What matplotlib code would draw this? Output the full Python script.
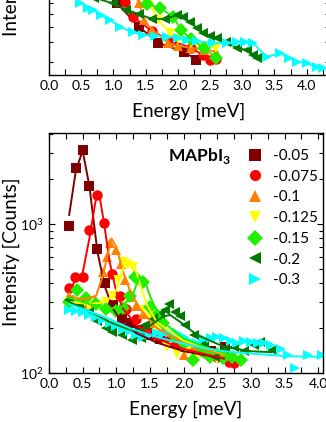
# -*- coding: utf-8 -*-
import matplotlib
matplotlib.use('Agg')
import matplotlib.pyplot as plt
from matplotlib.lines import Line2D
from matplotlib.ticker import MultipleLocator, FormatStrFormatter, LogLocator, NullFormatter

plt.rcParams['font.family'] = ['Lato', 'DejaVu Sans']
plt.rcParams['mathtext.fontset'] = 'custom'
plt.rcParams['mathtext.rm'] = 'Lato'
plt.rcParams['mathtext.bf'] = 'Lato:bold'

labels = ['-0.05', '-0.075', '-0.1', '-0.125', '-0.15', '-0.2', '-0.3']
colors = ['#800000', '#ff0000', '#ff8000', '#ffff00', '#22ee00', '#007a00', '#00ffff']
markers = ['s', 'o', '^', 'v', 'D', '<', '>']

# ---- lower panel: measured points ----
e_005 = [0.30, 0.40, 0.51, 0.60, 0.72, 0.83, 0.95, 1.08, 1.20, 1.35, 1.50, 1.65, 1.80, 1.95, 2.10, 2.25, 2.40, 2.62]
i_005 = [970, 2380, 3140, 1800, 680, 402, 286, 235, 215, 195, 180, 170, 160, 150, 148, 145, 140, 150]

e_0075 = [0.30, 0.39, 0.51, 0.60, 0.72, 0.81, 0.93, 1.05, 1.15, 1.30, 1.45, 1.60, 1.75, 1.90, 2.05, 2.20, 2.35, 2.50, 2.67, 2.75]
i_0075 = [372, 441, 441, 912, 1566, 1016, 462, 330, 270, 230, 200, 180, 165, 160, 150, 140, 135, 128, 119, 117]

e_01 = [0.30, 0.45, 0.58, 0.68, 0.80, 0.86, 0.91, 1.00, 1.07, 1.13, 1.20, 1.30, 1.40, 1.55, 1.70, 1.85, 2.00, 2.15, 2.30, 2.45, 2.60]
i_01 = [330, 300, 295, 309, 478, 600, 742, 669, 540, 421, 325, 280, 250, 215, 190, 175, 132, 150, 140, 135, 138]

e_0125 = [0.30, 0.45, 0.60, 0.75, 0.85, 0.95, 1.03, 1.10, 1.17, 1.25, 1.30, 1.40, 1.50, 1.60, 1.75, 1.90, 2.05, 2.20, 2.35, 2.50, 2.65]
i_0125 = [300, 285, 280, 285, 300, 330, 420, 557, 530, 517, 409, 265, 240, 200, 150, 135, 140, 130, 128, 125, 130]

e_015 = [0.30, 0.41, 0.55, 0.70, 0.85, 1.00, 1.10, 1.20, 1.28, 1.40, 1.50, 1.60, 1.70, 1.85, 2.00, 2.14, 2.27, 2.39, 2.50, 2.59, 2.72, 2.85]
i_015 = [300, 360, 320, 290, 270, 262, 275, 330, 442, 410, 279, 245, 215, 180, 158, 122, 140, 129, 135, 126, 128, 122]

e_02 = [0.29, 0.45, 0.60, 0.72, 0.84, 0.94, 1.09, 1.24, 1.37, 1.42, 1.55, 1.65, 1.72, 1.79, 1.87, 1.95, 2.02, 2.15, 2.30, 2.47, 2.60, 2.75, 2.90, 3.05, 3.14, 3.32]
i_02 = [309, 285, 255, 225, 200, 189, 180, 166, 172, 210, 230, 250, 265, 290, 258, 240, 210, 180, 160, 129, 145, 150, 140, 155, 162, 143]

e_03 = [0.30, 0.40, 0.50, 0.60, 0.70, 0.80, 0.90, 1.00, 1.10, 1.20, 1.30, 1.40, 1.50, 1.60, 1.70, 1.80, 1.90, 2.00, 2.10, 2.20, 2.30, 2.40, 2.50, 2.60, 2.70, 2.80, 2.90, 3.00, 3.10, 3.20, 3.30, 3.45, 3.55, 3.65, 3.85, 4.05]
i_03 = [265, 262, 255, 245, 236, 228, 218, 208, 198, 190, 180, 175, 180, 185, 182, 188, 185, 175, 165, 160, 168, 172, 175, 172, 165, 160, 165, 162, 160, 158, 155, 145, 132, 108, 132, 132]

# ---- lower panel: fitted curves ----
fe_005 = [0.30, 0.40, 0.50, 0.60, 0.72, 0.83, 0.95, 1.10, 1.30, 1.60, 2.00, 2.60]
fi_005 = [1150, 2300, 3100, 1800, 650, 380, 270, 215, 185, 160, 140, 125]
fe_0075 = [0.30, 0.40, 0.50, 0.60, 0.70, 0.75, 0.82, 0.90, 1.00, 1.10, 1.30, 1.60, 2.00, 2.60]
fi_0075 = [360, 420, 470, 800, 1500, 1550, 1000, 560, 350, 270, 210, 170, 145, 125]
fe_01 = [0.30, 0.50, 0.70, 0.80, 0.88, 0.93, 1.00, 1.10, 1.20, 1.35, 1.60, 2.00, 2.60]
fi_01 = [330, 310, 330, 450, 650, 800, 700, 480, 360, 270, 200, 160, 132]
fe_0125 = [0.30, 0.60, 0.85, 1.00, 1.10, 1.18, 1.27, 1.35, 1.45, 1.60, 2.00, 2.60]
fi_0125 = [300, 290, 300, 360, 500, 580, 520, 400, 290, 220, 165, 135]
fe_015 = [0.30, 0.60, 0.90, 1.10, 1.25, 1.34, 1.42, 1.50, 1.60, 1.75, 2.00, 2.40, 2.80]
fi_015 = [320, 290, 270, 280, 340, 440, 420, 330, 260, 210, 170, 145, 128]
fe_02 = [0.30, 0.60, 0.90, 1.20, 1.40, 1.55, 1.70, 1.80, 1.95, 2.20, 2.60, 3.00, 3.30]
fi_02 = [300, 260, 220, 195, 195, 215, 240, 245, 220, 180, 150, 140, 138]
fe_03 = [0.30, 0.60, 0.90, 1.20, 1.50, 1.80, 2.20, 2.60, 3.00, 3.50, 4.05]
fi_03 = [290, 260, 230, 200, 180, 165, 150, 140, 135, 130, 128]

# ---- upper panel (only its lower part is in the picture) ----
te_005 = [0.70, 1.05, 1.40, 1.70, 2.09, 2.29]
ti_005 = [1200, 705, 500, 396, 350, 311]
te_0075 = [0.90, 1.18, 1.31, 1.60, 1.90, 2.20, 2.39, 2.50, 2.60]
ti_0075 = [1100, 716, 575, 470, 410, 370, 334, 311, 315]
te_01 = [1.20, 1.40, 1.47, 1.60, 1.85, 2.00, 2.20, 2.40, 2.60]
ti_01 = [1000, 700, 550, 480, 396, 380, 370, 360, 350]
te_0125 = [1.35, 1.55, 1.70, 1.88, 2.00, 2.20, 2.40, 2.60]
ti_0125 = [1000, 700, 550, 458, 420, 395, 380, 370]
te_015 = [1.30, 1.52, 1.72, 1.93, 2.05, 2.20, 2.40, 2.60]
ti_015 = [950, 690, 660, 575, 480, 420, 370, 320]
te_02 = [0.50, 0.70, 1.00, 1.20, 1.40, 1.60, 1.80, 1.99, 2.08, 2.19, 2.30, 2.39, 2.50, 2.61, 2.75, 2.92, 3.07, 3.17, 3.23]
ti_02 = [900, 760, 700, 640, 600, 560, 560, 590, 575, 536, 490, 458, 440, 426, 400, 370, 358, 334, 319]
te_03 = [0.48, 0.60, 0.68, 0.80, 0.95, 1.10, 1.30, 1.46, 1.65, 1.83, 2.00, 2.14, 2.30, 2.55, 2.76, 2.92, 3.05, 3.17, 3.38, 3.59, 3.72, 3.85, 4.00, 4.16, 4.25]
ti_03 = [705, 660, 639, 590, 550, 499, 463, 444, 440, 433, 425, 415, 405, 396, 396, 403, 400, 396, 324, 343, 320, 303, 295, 280, 276]

points = [(e_005, i_005), (e_0075, i_0075), (e_01, i_01), (e_0125, i_0125),
          (e_015, i_015), (e_02, i_02), (e_03, i_03)]
fits = [(fe_005, fi_005), (fe_0075, fi_0075), (fe_01, fi_01), (fe_0125, fi_0125),
        (fe_015, fi_015), (fe_02, fi_02), (fe_03, fi_03)]
top_points = [(te_005, ti_005), (te_0075, ti_0075), (te_01, ti_01), (te_0125, ti_0125),
              (te_015, ti_015), (te_02, ti_02), (te_03, ti_03)]

W, H = 326, 422


def style_axes(ax):
    ax.set_yscale('log')
    ax.xaxis.set_major_locator(MultipleLocator(0.5))
    ax.xaxis.set_minor_locator(MultipleLocator(0.25))
    ax.xaxis.set_major_formatter(FormatStrFormatter('%.1f'))
    ax.yaxis.set_minor_locator(LogLocator(base=10, subs=range(2, 10)))
    ax.yaxis.set_minor_formatter(NullFormatter())
    ax.tick_params(which='both', direction='in', top=True, right=True, labelsize=10,
                   width=0.8)
    ax.tick_params(which='major', length=4)
    ax.tick_params(axis='x', which='minor', length=4)
    ax.tick_params(axis='y', which='minor', length=3)
    ax.tick_params(axis='y', pad=4)
    for sp in ax.spines.values():
        sp.set_linewidth(1.0)
    ax.set_xlabel('Energy [meV]', fontsize=13.7, labelpad=8)
    ax.set_ylabel('Intensity [Counts]', fontsize=13.7)


fig = plt.figure(figsize=(W / 100, H / 100), dpi=100)

# upper panel, mostly outside the picture
ax_top = fig.add_axes([49 / W, (H - 75) / H, (329 - 49) / W, 274 / H])
style_axes(ax_top)
ax_top.tick_params(axis='y', labelleft=False)
for (e, i), c, m in zip(top_points, colors, markers):
    ax_top.plot(e, i, color=c, marker=m, markersize=7.5, linewidth=1.3, markeredgewidth=0)
ax_top.set_xlim(0, (329 - 49) / 64.4)
ax_top.set_ylim(250, 250 * 10 ** (274 / 160))
ax_top.yaxis.set_label_coords(20 / W, (H + 38) / H, transform=fig.transFigure)

# lower panel
ax = fig.add_axes([49 / W, (H - 373) / H, (323 - 49) / W, 240 / H])
style_axes(ax)
for (e, i), c, m in zip(points, colors, markers):
    ax.plot(e, i, linestyle='none', color=c, marker=m, markersize=7.5, markeredgewidth=0)
for (e, i), c in zip(fits, colors):
    ax.plot(e, i, color=c, linewidth=1.4)
ax.set_xlim(0, (323 - 49) / 67.3)
ax.set_ylim(100, 100 * 10 ** (240 / 149))
ax.yaxis.set_label_coords(20 / W, (H - 252) / H, transform=fig.transFigure)

ax.text(199 / W, (H - 156) / H, r'MAPbI$_\mathbf{3}$', transform=fig.transFigure,
        fontsize=12.5, fontweight='bold', ha='center', va='center')

handles = [Line2D([], [], linestyle='none', marker=m, color=c, markersize=8, markeredgewidth=0)
           for c, m in zip(colors, markers)]
ax.legend(handles, labels, loc='upper left', bbox_to_anchor=(248 / W, (H - 149) / H),
          bbox_transform=fig.transFigure, frameon=False, fontsize=11,
          handlelength=0.9, handletextpad=0.75, labelspacing=0.44,
          borderpad=0, borderaxespad=0)

fig.savefig('out.png', dpi=100)
